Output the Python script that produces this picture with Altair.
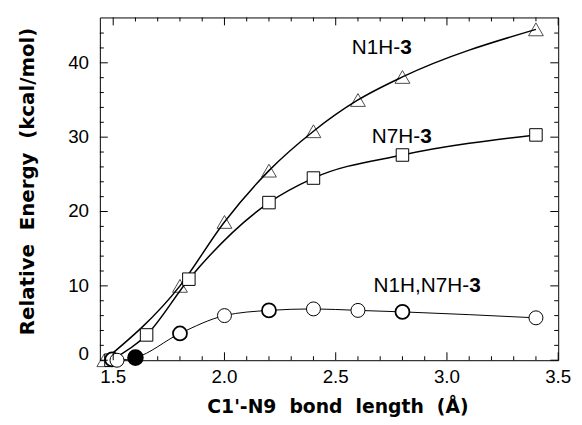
import altair as alt
import pandas as pd

# ---- data ----
tri_x = [1.46, 1.80, 2.00, 2.20, 2.40, 2.60, 2.80, 3.40]
tri_y = [0.0, 10.0, 18.6, 25.5, 30.8, 35.0, 38.1, 44.5]

sq_x = [1.49, 1.65, 1.84, 2.20, 2.40, 2.80, 3.40]
sq_y = [0.0, 3.4, 10.9, 21.2, 24.5, 27.6, 30.3]

ci_x = [1.495, 1.517, 1.60, 1.80, 2.00, 2.20, 2.40, 2.60, 2.80, 3.40]
ci_y = [0.1, 0.0, 0.35, 3.6, 6.0, 6.7, 6.9, 6.7, 6.5, 5.7]
ci_style = ["bold", "open", "filled", "bold", "open", "bold", "open", "open", "bold", "open"]

label_prefix = ["N1H-", "N7H-", "N1H,N7H-"]
label_suffix = ["3", "3", "3"]
label_x = [2.79, 2.88, 3.10]
label_y = [42.0, 30.0, 10.0]

x_major = [1.5, 2.0, 2.5, 3.0, 3.5]
x_minor = [1.6, 1.7, 1.8, 1.9, 2.1, 2.2, 2.3, 2.4, 2.6, 2.7, 2.8, 2.9,
           3.1, 3.2, 3.3, 3.4]
y_major = [0, 10, 20, 30, 40]
y_minor = [2, 4, 6, 8, 12, 14, 16, 18, 22, 24, 26, 28, 32, 34, 36, 38,
           42, 44]

x_title = "C1'-N9\u00a0 bond\u00a0 length\u00a0 (Å)"
y_title = "Relative\u00a0 Energy\u00a0 (kcal/mol)"

X_DOMAIN = [1.44, 3.5]
Y_DOMAIN = [0, 46.1]
W, H = 464, 347

tri = pd.DataFrame({"x": tri_x, "y": tri_y})
sq = pd.DataFrame({"x": sq_x, "y": sq_y})
ci = pd.DataFrame({"x": ci_x, "y": ci_y, "style": ci_style})
labs = pd.DataFrame({"x": label_x, "y": label_y,
                     "pre": label_prefix, "suf": label_suffix})

xs = alt.Scale(domain=X_DOMAIN, nice=False, zero=False)
ys = alt.Scale(domain=Y_DOMAIN, nice=False, zero=False)


def X():
    return alt.X("x:Q", scale=xs, axis=None)


def Y():
    return alt.Y("y:Q", scale=ys, axis=None)


line_tri = alt.Chart(tri).mark_line(
    color="black", strokeWidth=1.5, interpolate="monotone"
).encode(x=X(), y=Y())
line_sq = alt.Chart(sq).mark_line(
    color="black", strokeWidth=1.5, interpolate="monotone"
).encode(x=X(), y=Y())
line_ci = alt.Chart(ci).mark_line(
    color="black", strokeWidth=1.0, interpolate="monotone"
).encode(x=X(), y=Y())

pt_tri = alt.Chart(tri).mark_point(
    shape="triangle-up", size=225, filled=False, color="black",
    strokeWidth=1.0
).encode(x=X(), y=Y())
pt_sq = alt.Chart(sq).mark_point(
    shape="square", size=160, fill="white", stroke="black", strokeWidth=1.0,
    filled=True, opacity=1
).encode(x=X(), y=Y())
pt_ci = alt.Chart(ci).mark_point(
    shape="circle", size=200, filled=True, opacity=1, stroke="black"
).encode(
    x=X(), y=Y(),
    fill=alt.Fill("style:N", scale=alt.Scale(
        domain=["open", "bold", "filled"],
        range=["white", "white", "black"]), legend=None),
    strokeWidth=alt.StrokeWidth("style:N", scale=alt.Scale(
        domain=["open", "bold", "filled"], range=[1.0, 2.6, 1.0]),
        legend=None),
)

txt_pre = alt.Chart(labs).mark_text(
    align="right", baseline="middle", font="Liberation Sans", fontSize=21,
    color="black"
).encode(x=X(), y=Y(), text="pre:N")
txt_suf = alt.Chart(labs).mark_text(
    align="left", baseline="middle", font="Liberation Sans", fontSize=21,
    fontWeight="bold", color="black"
).encode(x=X(), y=Y(), text="suf:N")

# ---- inward ticks on all four sides (positions from the scales) ----
xmaj = pd.DataFrame({"x": x_major})
xmin = pd.DataFrame({"x": x_minor})
ymaj = pd.DataFrame({"y": y_major})
ymin = pd.DataFrame({"y": y_minor})


def xticks(df, length):
    bottom = alt.Chart(df).mark_rule(color="black", strokeWidth=1).encode(
        x=X(), y=alt.value(H), y2=alt.value(H - length))
    top = alt.Chart(df).mark_rule(color="black", strokeWidth=1).encode(
        x=X(), y=alt.value(0), y2=alt.value(length))
    return [bottom, top]


def yticks(df, length):
    left = alt.Chart(df).mark_rule(color="black", strokeWidth=1).encode(
        y=Y(), x=alt.value(0), x2=alt.value(length))
    right = alt.Chart(df).mark_rule(color="black", strokeWidth=1).encode(
        y=Y(), x=alt.value(W), x2=alt.value(W - length))
    return [left, right]


ticks = (xticks(xmaj, 8) + xticks(xmin, 4) + yticks(ymaj, 8)
         + yticks(ymin, 4))

# ---- tick labels and axis titles ----
xlab = alt.Chart(xmaj).mark_text(
    align="center", baseline="top", font="Liberation Sans", fontSize=19,
    color="black"
).encode(x=X(), y=alt.value(H + 8), text=alt.Text("x:Q", format=".1f"))

ylab_mid = alt.Chart(ymaj).transform_filter("datum.y > 0").mark_text(
    align="right", baseline="middle", font="Liberation Sans", fontSize=19,
    color="black"
).encode(y=Y(), x=alt.value(-11), text=alt.Text("y:Q", format="d"))
ylab_zero = alt.Chart(ymaj).transform_filter("datum.y == 0").mark_text(
    align="right", baseline="alphabetic", font="Liberation Sans",
    fontSize=19, color="black"
).encode(y=Y(), x=alt.value(-11), text=alt.Text("y:Q", format="d"))

xtitle = alt.Chart(pd.DataFrame({"t": [x_title]})).mark_text(
    align="center", baseline="alphabetic", font="DejaVu Sans", fontSize=19,
    fontWeight="bold", color="black"
).encode(x=alt.value(241), y=alt.value(H + 53), text="t:N")

ytitle = alt.Chart(pd.DataFrame({"t": [y_title]})).mark_text(
    align="center", baseline="middle", font="DejaVu Sans", fontSize=20,
    fontWeight="bold", color="black", angle=270
).encode(x=alt.value(-73), y=alt.value(166), text="t:N")

chart = alt.layer(
    line_tri, line_sq, line_ci, pt_tri, pt_sq, pt_ci, txt_pre,
    txt_suf, xlab, ylab_mid, ylab_zero, xtitle, ytitle, *ticks
).properties(
    width=W, height=H,
    autosize=alt.AutoSizeParams(type="none"),
    padding={"left": 93, "top": 7, "right": 16, "bottom": 62},
    background="white",
).configure_view(stroke="black", strokeWidth=1)

chart.save("out.html", embed_options={"renderer": "svg", "actions": False})
